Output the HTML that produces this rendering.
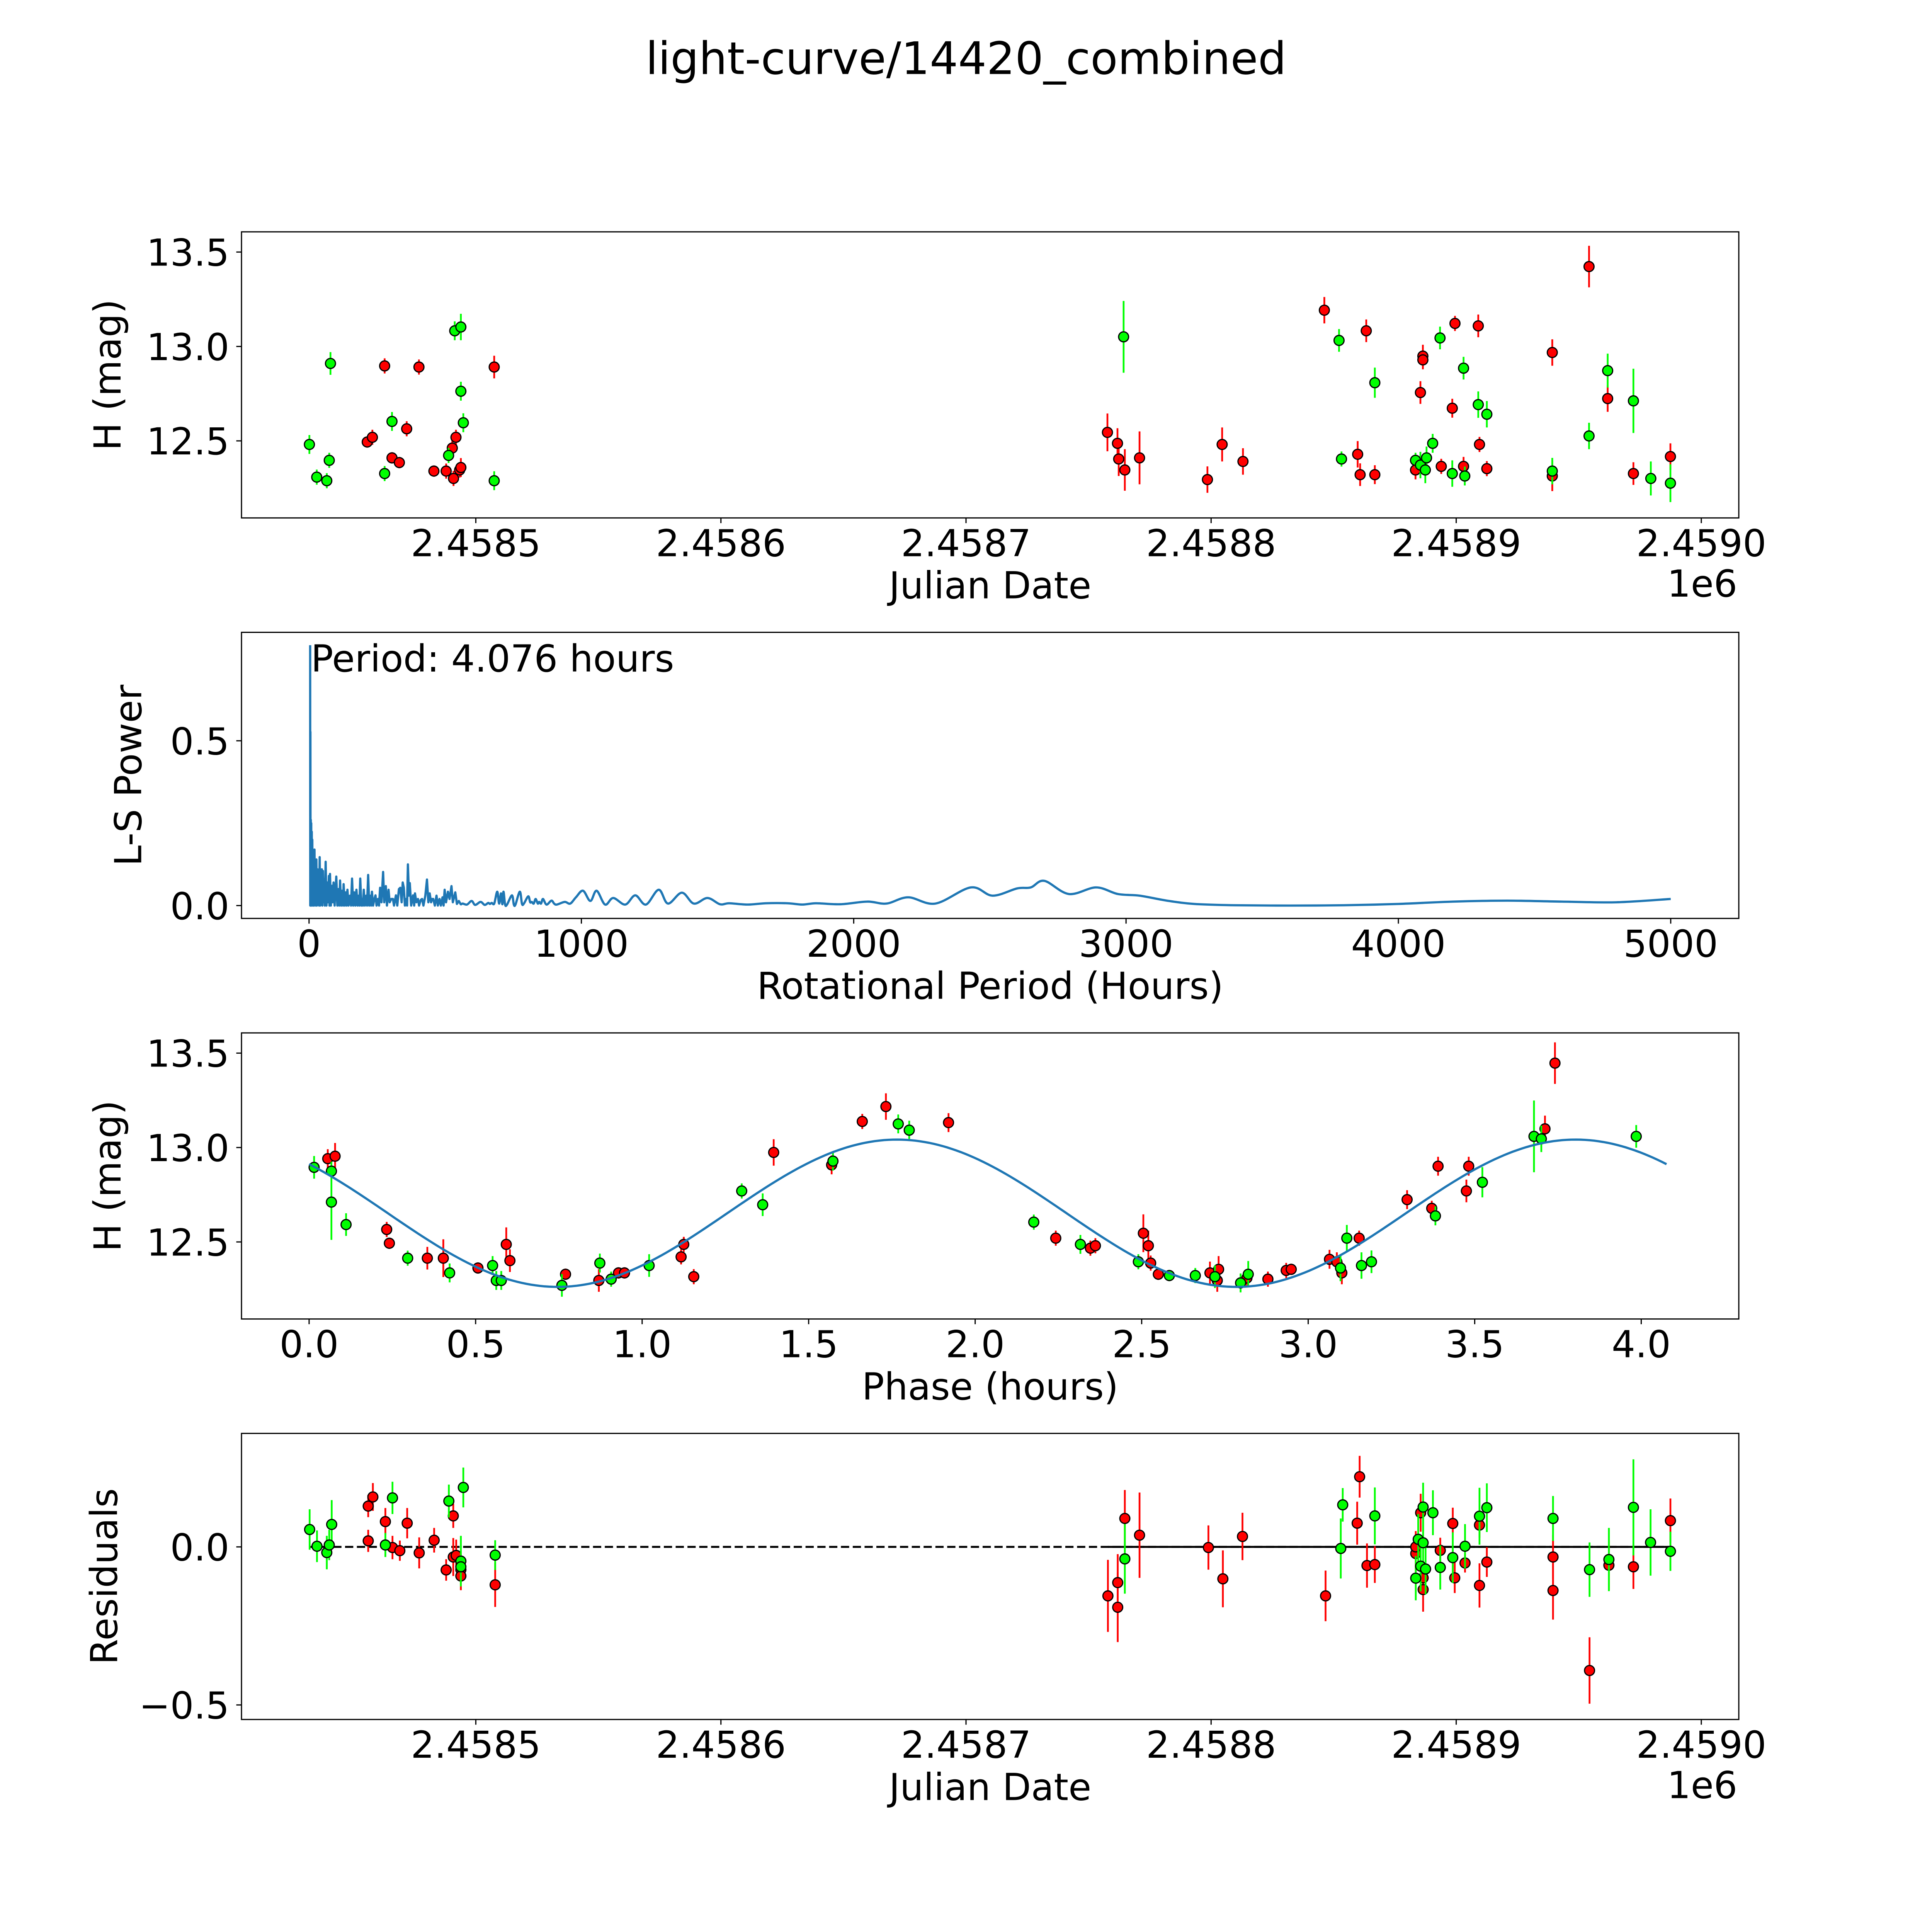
<!DOCTYPE html>
<html><head><meta charset="utf-8"><title>light-curve/14420_combined</title>
<style>
html,body{margin:0;padding:0;background:#fff;overflow:hidden;width:100%;height:100%;}
svg{display:block;width:100vw;height:100vh;}
text{font-family:"DejaVu Sans","Liberation Sans",sans-serif;fill:#000;}
</style></head>
<body>
<svg id="fig" viewBox="0 0 5400 5400" preserveAspectRatio="xMidYMid meet" xmlns="http://www.w3.org/2000/svg">
<rect width="5400" height="5400" fill="#fff"/>
<text x="2700" y="207" font-size="125" text-anchor="middle">light-curve/14420_combined</text>
</svg>
<script>
// ---------- data ----------
const JD_REF = 2458507.0; // days below are relative to this JD
// Panel 1: raw light curve
const g1Days = [-74.9,-71.9,-67.8,-66.8,-66.3,-44.2,-41.2,-18.1,-15.6,-13.1,-13.1,-12.1,0.5,257.3,345.2,346.2,359.8,376.4,378.4,380.4,380.9,383.4,386.4,391.4,396.0,396.5,402.0,405.5,432.2,447.2,454.8,465.3,472.4,480.4];
const g1Mag = [12.481,12.308,12.289,12.397,12.910,12.327,12.603,12.423,13.083,13.103,12.763,12.596,12.289,13.051,13.032,12.404,12.808,12.397,12.372,12.346,12.410,12.487,13.045,12.327,12.885,12.314,12.692,12.641,12.340,12.526,12.872,12.712,12.301,12.276];
const g1Err = [.05,.04,.04,.04,.06,.04,.05,.04,.05,.07,.05,.05,.05,.19,.06,.04,.08,.04,.07,.07,.06,.05,.06,.07,.06,.05,.07,.07,.07,.07,.09,.17,.09,.1];
const r1Days = [-51.3,-49.2,-44.2,-41.2,-38.2,-35.2,-30.2,-24.1,-19.1,-16.6,-16.1,-15.1,-13.6,-13.1,0.5,250.7,254.8,255.3,257.8,263.8,291.5,297.5,306.0,339.2,352.8,353.8,356.3,359.8,376.4,378.4,379.4,379.4,386.9,391.4,392.5,396.0,402.0,402.5,405.5,432.2,432.2,447.2,454.8,465.3,480.4];
const r1Mag = [12.494,12.519,12.897,12.410,12.385,12.564,12.891,12.340,12.340,12.462,12.301,12.519,12.346,12.359,12.891,12.545,12.487,12.404,12.346,12.410,12.295,12.481,12.391,13.192,12.429,12.321,13.083,12.321,12.346,12.756,12.949,12.929,12.365,12.673,13.122,12.365,13.109,12.481,12.353,12.968,12.314,13.423,12.724,12.327,12.417];
const r1Err = [.03,.04,.04,.03,.03,.04,.04,.03,.04,.04,.04,.04,.04,.05,.06,.1,.08,.09,.11,.14,.07,.09,.07,.07,.07,.06,.06,.05,.05,.06,.06,.05,.04,.05,.04,.05,.06,.04,.04,.07,.08,.11,.07,.06,.07];
// Panel 2: Lomb-Scargle periodogram
const lsPeriod = [4.076,4.5,5,5.6,6.5,7.2,8,9,10,11,12,13,14,15.5,17,18.5,20,21.5,23,25,27,29,31,33,35,37,39,41,43,45,47,49,51,53,56,58,61,64,67,70,73,75,77,80,84,87,90,94,100,104,108,111,114,118,122,125,127,131,135,138,141,145,150,154,158,162,166,170,174,178,182,185,188,192,196,198,201,205,210,213,217,221,226,228,231,235,240,244,248,253,257,261,266,272,276,282,286,292,296,302,308,312,319,324,330,335,340,344,348,352,356,360,363,367,370,375,379,382,386,389,394,400,404,410,415,420,427,433,438,443,448,452,456,462,468,473,479,484,490,494,498,503,510,516,523,528,537,543,550,557,564,580,597,610,630,645,658,664,671,680,691,698,705,710,714,720,727,745,752,758,774,782,789,805,812,818,825,832,840,845,852,859,872,890,900,910,939,959,980,1006,1033,1056,1087,1117,1161,1198,1237,1284,1318,1369,1413,1463,1509,1543,1610,1677,1757,1811,1862,1950,2050,2120,2200,2300,2430,2510,2600,2650,2700,2790,2890,2970,3050,3150,3250,3400,3600,3800,4000,4200,4400,4600,4800,5000];
const lsPower = [0.79,0,0.527,0,0.26,0,0.25,0.02,0.224,0,0.2,0.01,0.17,0,0.16,0,0.17,0.01,0.12,0,0.14,0,0.11,0.01,0.1,0,0.147,0,0.09,0.01,0.11,0,0.105,0.01,0.08,0,0.133,0,0.07,0.01,0.09,0,0.096,0,0.06,0.01,0.07,0,0.088,0,0.05,0,0.076,0,0.045,0,0.065,0,0.04,0,0.048,0,0.03,0,0.082,0,0.04,0,0.048,0,0.03,0,0.082,0,0.02,0,0.048,0,0.03,0,0.093,0,0.03,0,0.042,0,0.02,0.031,0,0.02,0,0.054,0.01,0.102,0.01,0.059,0,0.048,0.01,0.02,0.02,0,0.031,0,0.05,0.054,0.01,0.07,0.054,0,0.02,0,0.125,0.03,0.068,0,0.02,0.031,0,0.037,0.01,0.02,0,0.017,0.02,0,0.03,0.079,0.01,0.037,0.01,0.02,0.02,0,0.03,0,0.02,0,0.025,0,0.048,0.01,0.042,0.02,0.059,0.01,0.04,0.005,0.014,0.004,0.006,0.003,0.014,0.002,0.011,0.002,0.008,0.005,0.008,0.006,0.042,0.006,0.037,0.004,0.042,0.003,0.003,0.031,0.003,0.003,0.042,0.005,0.006,0.028,0.01,0.011,0.006,0.02,0.006,0.011,0.006,0.02,0.003,0.015,0.006,0.003,0.011,0.006,0.025,0.045,0.014,0.045,0.003,0.023,0.003,0.031,0.003,0.048,0.006,0.039,0.006,0.023,0.004,0.007,0.003,0.007,0.007,0.003,0.007,0.004,0.012,0.006,0.025,0.006,0.055,0.03,0.052,0.055,0.075,0.035,0.055,0.035,0.03,0.015,0.005,0.001,0.0,0.001,0.005,0.012,0.015,0.012,0.01,0.02];
const bestPeriodLabel = "Period: 4.076 hours";
// Panel 3: phase folded
const PERIOD_H = 4.076;
const fitParams = [12.652, 0.39, 1.765]; // mean, amplitude, peak phase (double-peaked, P/2 harmonic)
const g3Phase = [0.015,0.067,0.067,0.111,0.296,0.422,0.551,0.562,0.577,0.759,0.873,0.907,1.021,1.299,1.362,1.573,1.769,1.802,2.176,2.316,2.490,2.583,2.661,2.720,2.797,2.820,3.097,3.116,3.160,3.190,3.382,3.523,3.678,3.700,3.985];
const g3Mag = [12.895,12.875,12.711,12.592,12.414,12.336,12.375,12.296,12.296,12.270,12.388,12.303,12.375,12.770,12.697,12.928,13.125,13.092,12.605,12.487,12.395,12.322,12.322,12.316,12.283,12.329,12.362,12.520,12.375,12.395,12.638,12.816,13.059,13.046,13.059];
const g3Err = [.06,.05,.2,.06,.04,.05,.05,.05,.05,.06,.05,.04,.06,.04,.06,.05,.05,.05,.04,.05,.04,.03,.04,.06,.05,.07,.07,.07,.07,.06,.05,.08,.19,.07,.06];
const r3Phase = [0.056,0.078,0.233,0.241,0.355,0.403,0.507,0.592,0.603,0.770,0.870,0.929,0.947,1.117,1.125,1.155,1.395,1.569,1.661,1.732,1.920,2.242,2.346,2.361,2.505,2.520,2.527,2.550,2.705,2.727,2.731,2.816,2.879,2.934,2.949,3.064,3.086,3.101,3.153,3.297,3.371,3.390,3.475,3.482,3.711,3.741];
const r3Mag = [12.941,12.954,12.566,12.493,12.414,12.414,12.362,12.487,12.401,12.329,12.296,12.336,12.336,12.421,12.487,12.316,12.974,12.908,13.138,13.217,13.132,12.520,12.467,12.480,12.546,12.480,12.388,12.329,12.336,12.296,12.355,12.309,12.303,12.349,12.355,12.408,12.395,12.336,12.520,12.724,12.678,12.901,12.770,12.901,13.099,13.447];
const r3Err = [.05,.07,.04,.03,.06,.1,.03,.09,.06,.03,.06,.03,.03,.04,.04,.04,.07,.05,.04,.07,.05,.04,.04,.04,.1,.08,.04,.03,.06,.06,.07,.04,.04,.04,.03,.05,.05,.06,.04,.05,.04,.05,.06,.05,.07,.11];
// Panel 4: residuals
const g4Days = [-74.8,-71.8,-67.8,-66.8,-65.8,-43.9,-41.0,-18.0,-13.1,-13.1,-12.1,0.9,257.8,345.9,346.7,359.8,376.5,377.5,378.5,379.5,379.5,380.5,383.5,386.5,391.6,396.6,402.5,405.5,432.5,447.4,455.3,465.3,472.3,480.4];
const g4Res = [0.055,0.002,-0.018,0.006,0.071,0.006,0.155,0.145,-0.045,-0.063,0.188,-0.026,-0.038,-0.005,0.133,0.098,-0.099,0.024,-0.061,0.126,0.013,-0.070,0.108,-0.065,-0.034,0.002,0.097,0.124,0.090,-0.072,-0.040,0.125,0.014,-0.014];
const g4Err = [.064,.05,.053,.048,.077,.038,.051,.052,.08,.05,.063,.047,.11,.095,.053,.09,.07,.08,.08,.077,.09,.08,.071,.07,.08,.07,.09,.077,.071,.086,.1,.152,.105,.062];
const r4Days = [-50.9,-49.0,-50.9,-43.9,-41.0,-38.0,-35.0,-30.1,-24.0,-16.2,-19.1,-16.2,-15.0,-13.1,-13.1,0.9,250.9,254.9,254.9,257.8,263.8,291.9,297.8,305.8,339.7,352.6,353.6,356.6,359.8,376.5,376.5,378.5,379.5,379.5,386.5,391.6,392.4,396.6,402.5,402.5,405.5,432.5,432.5,447.4,455.3,465.3,480.4];
const r4Res = [0.129,0.158,0.019,0.080,-0.002,-0.012,0.075,-0.019,0.021,0.098,-0.073,-0.032,-0.027,-0.072,-0.092,-0.120,-0.155,-0.113,-0.191,0.090,0.037,-0.002,-0.101,0.033,-0.155,0.075,0.222,-0.059,-0.056,-0.021,0.0,0.108,-0.098,-0.135,-0.011,0.074,-0.098,-0.051,0.069,-0.122,-0.048,-0.032,-0.138,-0.391,-0.058,-0.063,0.083];
const r4Err = [.035,.044,.035,.043,.037,.032,.048,.049,.039,.038,.034,.06,.05,.05,.045,.07,.114,.09,.11,.09,.135,.07,.09,.075,.08,.068,.066,.07,.058,.06,.05,.06,.05,.07,.04,.05,.048,.03,.04,.07,.047,.07,.092,.105,.078,.07,.07];
const jdTicks = [2458500,2458600,2458700,2458800,2458900,2459000];
const jdTickLabels = ["2.4585","2.4586","2.4587","2.4588","2.4589","2.4590"];
const magTicks = [12.5,13.0,13.5];
const magTickLabels = ["12.5","13.0","13.5"];
const periodTicks = [0,1000,2000,3000,4000,5000];
const periodTickLabels = ["0","1000","2000","3000","4000","5000"];
const powerTicks = [0.0,0.5];
const powerTickLabels = ["0.0","0.5"];
const phaseTicks = [0,0.5,1,1.5,2,2.5,3,3.5,4];
const phaseTickLabels = ["0.0","0.5","1.0","1.5","2.0","2.5","3.0","3.5","4.0"];
const resTicks = [0.0,-0.5];
const resTickLabels = ["0.0","\u22120.5"];

// ---------- drawing ----------
const NS = "http://www.w3.org/2000/svg";
const svg = document.getElementById("fig");
function mk(tag, attrs, parent){ const e=document.createElementNS(NS,tag); for(const k in attrs) e.setAttribute(k,attrs[k]); (parent||svg).appendChild(e); return e; }
function lin(d0,d1,r0,r1){ return v => r0 + (v-d0)/(d1-d0)*(r1-r0); }

const L=675, R=4860, H=799.6;
const tops=[648,1767.4,2887,4006.4];
const jdX = lin(2458404.4,2459015.3,L,R);
const magY = t => lin(12.092,13.607,t+H,t);
const perX = lin(-248,5250,L,R);
const powY = lin(-0.039,0.829,tops[1]+H,tops[1]);
const phX = lin(-0.203,4.293,L,R);
const resY = lin(-0.546,0.359,tops[3]+H,tops[3]);

function axesFrame(i, name){
  const g=mk("g",{});
  
  
  return g;
}
function spine(g,t,name){
  const r=mk("rect",{x:L,y:t,width:R-L,height:H,fill:"none",stroke:"#000","stroke-width":3.3},g);
  
  
}
function xTicks(g,t,vals,labels,fx,name){
  vals.forEach((v,i)=>{
    const x=fx(v);
    const ln=mk("line",{x1:x,x2:x,y1:t+H,y2:t+H+14.6,stroke:"#000","stroke-width":3.3},g);
    
    
    const tx=mk("text",{x:x,y:t+H+107,"font-size":104,"text-anchor":"middle"},g);
    tx.textContent=labels[i];
    
    
  });
}
function yTicks(g,t,vals,labels,fy,name){
  vals.forEach((v,i)=>{
    const y=fy(v);
    const ln=mk("line",{x1:L-14.6,x2:L,y1:y,y2:y,stroke:"#000","stroke-width":3.3},g);
    
    
    const tx=mk("text",{x:641,y:y+38,"font-size":104,"text-anchor":"end"},g);
    tx.textContent=labels[i];
    
    
  });
}
function xLabel(g,t,txt,name){
  const tx=mk("text",{x:(L+R)/2,y:t+H+225,"font-size":104,"text-anchor":"middle"},g);
  tx.textContent=txt;
  
  
}
function yLabel(g,t,txt,bx,name){
  const cy=t+H/2;
  const tx=mk("text",{x:bx,y:cy,"font-size":104,"text-anchor":"middle",transform:`rotate(-90 ${bx} ${cy})`},g);
  tx.textContent=txt;
  
  
}
function offsetText(g,t,name){
  const tx=mk("text",{x:R-4,y:t+H+220,"font-size":104,"text-anchor":"end"},g);
  tx.textContent="1e6";
  
  
}
function clip(id,t){
  const cp=mk("clipPath",{id:id});
  mk("rect",{x:L,y:t,width:R-L,height:H},cp);
}
function errPoints(g,xs,ys,es,fx,fy,color,name){
  const bars=mk("g",{},g);
  
  
  xs.forEach((xv,i)=>{
    const x=fx(xv);
    const b=mk("line",{x1:x,x2:x,y1:fy(ys[i]-es[i]),y2:fy(ys[i]+es[i]),stroke:color,"stroke-width":5},bars);
    
    
  });
  const pts=mk("g",{},g);
  
  
  xs.forEach((xv,i)=>{
    const c=mk("circle",{cx:fx(xv),cy:fy(ys[i]),r:14,fill:color,stroke:"#000","stroke-width":3.3},pts);
    
    
  });
}
const jdOf = d => JD_REF + d;

// Panel 1
(function(){
  const t=tops[0];
  const g=axesFrame(0,'light-curve-panel');
  clip("c1",t);
  const fy=magY(t);
  const pg=mk("g",{"clip-path":"url(#c1)"},g);
  errPoints(pg,r1Days,r1Mag,r1Err,d=>jdX(jdOf(d)),fy,"#ff0000","red-band");
  errPoints(pg,g1Days,g1Mag,g1Err,d=>jdX(jdOf(d)),fy,"#00ff00","green-band");
  spine(g,t,'light-curve-axes');
  xTicks(g,t,jdTicks,jdTickLabels,jdX,'jd-x-axis');
  yTicks(g,t,magTicks,magTickLabels,fy,'mag-y-axis');
  xLabel(g,t,"Julian Date",'x-axis-title');
  yLabel(g,t,"H (mag)",375-38,'y-axis-title');
  offsetText(g,t,'x-offset-text');
})();

// Panel 2
(function(){
  const t=tops[1];
  const g=axesFrame(1,'periodogram-panel');
  clip("c2",t);
  const pg=mk("g",{"clip-path":"url(#c2)"},g);
  const P=lsPeriod.map((p,i)=>[perX(p),powY(lsPower[i])]);
  let d="M"+P[0][0].toFixed(1)+" "+P[0][1].toFixed(1);
  for(let i=1;i<P.length;i++){
    if(lsPeriod[i]<=560){ d+="L"+P[i][0].toFixed(1)+" "+P[i][1].toFixed(1); continue; }
    const p0=P[Math.max(i-2,0)], p1=P[i-1], p2=P[i], p3=P[Math.min(i+1,P.length-1)];
    const c1x=p1[0]+(p2[0]-p0[0])/6, c1y=p1[1]+(p2[1]-p0[1])/6;
    const c2x=p2[0]-(p3[0]-p1[0])/6, c2y=p2[1]-(p3[1]-p1[1])/6;
    d+="C"+c1x.toFixed(1)+" "+c1y.toFixed(1)+" "+c2x.toFixed(1)+" "+c2y.toFixed(1)+" "+p2[0].toFixed(1)+" "+p2[1].toFixed(1);
  }
  const path=mk("path",{d:d,fill:"none",stroke:"#1f77b4","stroke-width":6.25,"stroke-linejoin":"round"},pg);
  
  
  const lab=mk("text",{x:perX(lsPeriod[0])+2,y:1877,"font-size":104},g);
  lab.textContent=bestPeriodLabel;
  
  
  spine(g,t,'periodogram-axes');
  xTicks(g,t,periodTicks,periodTickLabels,perX,'period-x-axis');
  yTicks(g,t,powerTicks,powerTickLabels,powY,'power-y-axis');
  xLabel(g,t,"Rotational Period (Hours)",'x-axis-title');
  yLabel(g,t,"L-S Power",433-38,'y-axis-title');
})();

// Panel 3
(function(){
  const t=tops[2];
  const g=axesFrame(2,'phase-panel');
  clip("c3",t);
  const fy=magY(t);
  const pg=mk("g",{"clip-path":"url(#c3)"},g);
  errPoints(pg,r3Phase,r3Mag,r3Err,phX,fy,"#ff0000","red-band-phased");
  errPoints(pg,g3Phase,g3Mag,g3Err,phX,fy,"#00ff00","green-band-phased");
  let d="";
  const n=300;
  for(let i=0;i<=n;i++){
    const ph=PERIOD_H*i/n;
    const m=fitParams[0]+fitParams[1]*Math.cos(2*Math.PI*(ph-fitParams[2])/(PERIOD_H/2));
    d+=(i?"L":"M")+phX(ph).toFixed(1)+" "+fy(m).toFixed(1);
  }
  const path=mk("path",{d:d,fill:"none",stroke:"#1f77b4","stroke-width":6.25},pg);
  
  
  spine(g,t,'phase-axes');
  xTicks(g,t,phaseTicks,phaseTickLabels,phX,'phase-x-axis');
  yTicks(g,t,magTicks,magTickLabels,fy,'mag-y-axis');
  xLabel(g,t,"Phase (hours)",'x-axis-title');
  yLabel(g,t,"H (mag)",375-38,'y-axis-title');
})();

// Panel 4
(function(){
  const t=tops[3];
  const g=axesFrame(3,'residuals-panel');
  clip("c4",t);
  const pg=mk("g",{"clip-path":"url(#c4)"},g);
  const allDays=g4Days.concat(r4Days);
  const dmin=Math.min(...allDays), dmax=Math.max(...allDays);
  const zl=mk("line",{x1:jdX(jdOf(dmin)),x2:jdX(jdOf(dmax)),y1:resY(0),y2:resY(0),stroke:"#000","stroke-width":5.5,"stroke-dasharray":"23 10"},pg);
  
  
  const rightDays=allDays.filter(v=>v>100);
  const zl2=mk("line",{x1:jdX(jdOf(Math.min(...rightDays))),x2:jdX(jdOf(dmax)),y1:resY(0),y2:resY(0),stroke:"#000","stroke-width":5.5},pg);
  
  
  errPoints(pg,r4Days,r4Res,r4Err,d=>jdX(jdOf(d)),resY,"#ff0000","red-band-residual");
  errPoints(pg,g4Days,g4Res,g4Err,d=>jdX(jdOf(d)),resY,"#00ff00","green-band-residual");
  spine(g,t,'residuals-axes');
  xTicks(g,t,jdTicks,jdTickLabels,jdX,'jd-x-axis');
  yTicks(g,t,resTicks,resTickLabels,resY,'residual-y-axis');
  xLabel(g,t,"Julian Date",'x-axis-title');
  yLabel(g,t,"Residuals",365-38,'y-axis-title');
  offsetText(g,t,'x-offset-text');
})();
</script>
</body></html>
